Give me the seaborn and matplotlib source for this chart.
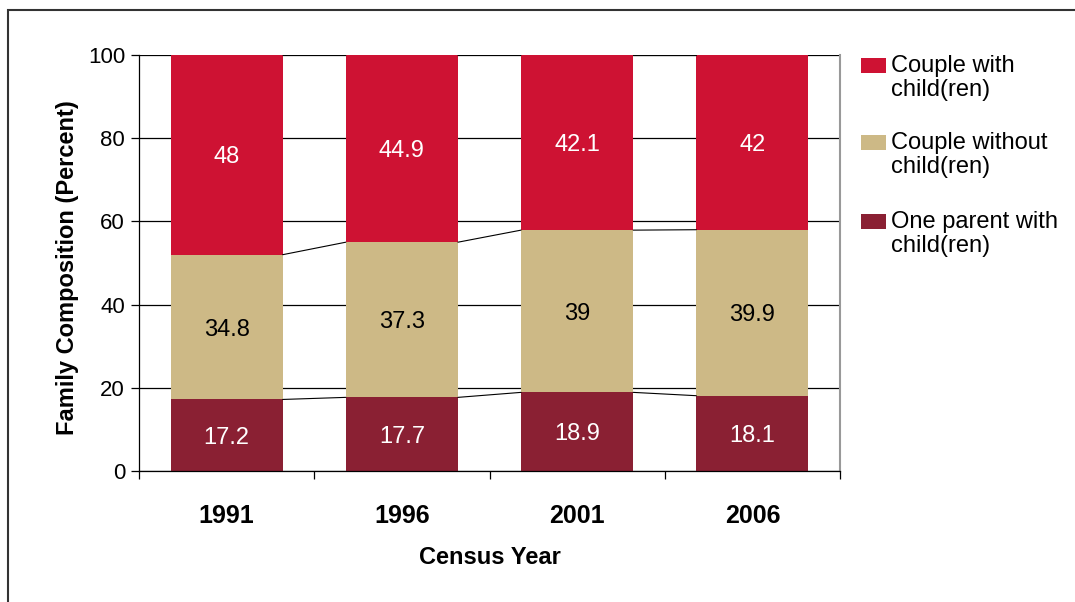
import matplotlib
matplotlib.use("Agg")
import matplotlib.pyplot as plt
import seaborn as sns
import pandas as pd
from matplotlib.patches import Rectangle

years = ["1991", "1996", "2001", "2006"]
one_parent = [17.2, 17.7, 18.9, 18.1]
couple_without = [34.8, 37.3, 39.0, 39.9]
couple_with = [48.0, 44.9, 42.1, 42.0]
series_names = ["Couple with\nchild(ren)", "Couple without\nchild(ren)", "One parent with\nchild(ren)"]
colors = ["#CE1233", "#CDB986", "#8A2033"]
yticks = [0, 20, 40, 60, 80, 100]

sns.set_theme(style="white")
plt.rcParams["font.family"] = ["Liberation Sans", "DejaVu Sans"]
plt.rcParams["text.color"] = "black"
plt.rcParams["axes.labelcolor"] = "black"
plt.rcParams["xtick.color"] = "black"
plt.rcParams["ytick.color"] = "black"

df = pd.DataFrame({"year": years, "one": one_parent, "without": couple_without, "with": couple_with})
df["c1"] = df["one"]
df["c2"] = df["one"] + df["without"]
df["c3"] = df["c2"] + df["with"]

fig = plt.figure(figsize=(10.75, 6.02), dpi=100)
ax = fig.add_axes([139/1075, 1-471/602, 701/1075, 416/602])

W = 0.64
sns.barplot(data=df, x="year", y="c3", color=colors[0], width=W, saturation=1, ax=ax, zorder=2, linewidth=0)
sns.barplot(data=df, x="year", y="c2", color=colors[1], width=W, saturation=1, ax=ax, zorder=2, linewidth=0)
sns.barplot(data=df, x="year", y="c1", color=colors[2], width=W, saturation=1, ax=ax, zorder=2, linewidth=0)

# series lines
for col in ["c1", "c2", "c3"]:
    vals = df[col].tolist()
    for i in range(len(vals) - 1):
        ax.plot([i + W/2, i + 1 - W/2], [min(vals[i], 100), min(vals[i+1], 100)],
                color="black", lw=0.8, zorder=3, clip_on=True)

# value labels
def fmt(v):
    return f"{v:g}"
FS = 17
VA = "center_baseline"
for i in range(len(years)):
    ax.text(i, df["one"][i]/2, fmt(one_parent[i]), ha="center", va=VA, color="white", fontsize=FS, zorder=4)
    ax.text(i, df["c1"][i] + couple_without[i]/2, fmt(couple_without[i]), ha="center", va=VA, color="black", fontsize=FS, zorder=4)
    ax.text(i, df["c2"][i] + couple_with[i]/2, fmt(couple_with[i]), ha="center", va=VA, color="white", fontsize=FS, zorder=4)

ax.set_ylim(0, 100)
ax.set_xlim(-0.5, len(years) - 0.5)
ax.set_yticks(yticks)
ax.set_yticklabels([str(t) for t in yticks], fontsize=16)
ax.yaxis.grid(True, color="black", lw=0.9, zorder=0)
ax.set_axisbelow(True)
ax.tick_params(axis="y", which="major", left=True, length=6, width=0.9, color="black", pad=4)

ax.set_xticks(range(len(years)))
ax.set_xticklabels(years, fontsize=18, fontweight="bold")
ax.set_xticks([i - 0.5 for i in range(len(years) + 1)], minor=True)
ax.tick_params(axis="x", which="major", length=0, pad=24)
ax.tick_params(axis="x", which="minor", bottom=True, length=6, width=0.9, color="black")

ax.spines["left"].set_color("black")
ax.spines["bottom"].set_color("black")
ax.spines["top"].set_visible(False)
ax.spines["right"].set_color("#999999")
ax.spines["right"].set_linewidth(1.5)
for s in ["left", "bottom"]:
    ax.spines[s].set_linewidth(0.9)

ax.set_xlabel("Census Year", fontsize=17, fontweight="bold")
ax.xaxis.set_label_coords(0.5, -(546 - 471) / 416)
ax.set_ylabel("Family Composition (Percent)", fontsize=17, fontweight="bold")
ax.yaxis.set_label_coords((79 - 139) / 701, 0.49)

# legend
leg_y = [65, 142, 221]
for name, c, y in zip(series_names, colors, leg_y):
    fig.add_artist(Rectangle((861/1075, 1 - (y + 8)/602), 25/1075, 15/602,
                             transform=fig.transFigure, facecolor=c, edgecolor="none"))
    fig.text(891/1075, 1 - (y - 10)/602, name, ha="left", va="top", fontsize=17, linespacing=1.12)

# outer border
fig.add_artist(Rectangle((8/1075, -0.05), 1.1, 1 - 10/602 + 0.05, transform=fig.transFigure,
                         facecolor="none", edgecolor="#333333", lw=1.5, clip_on=False))

fig.savefig("out.png", dpi=100)
